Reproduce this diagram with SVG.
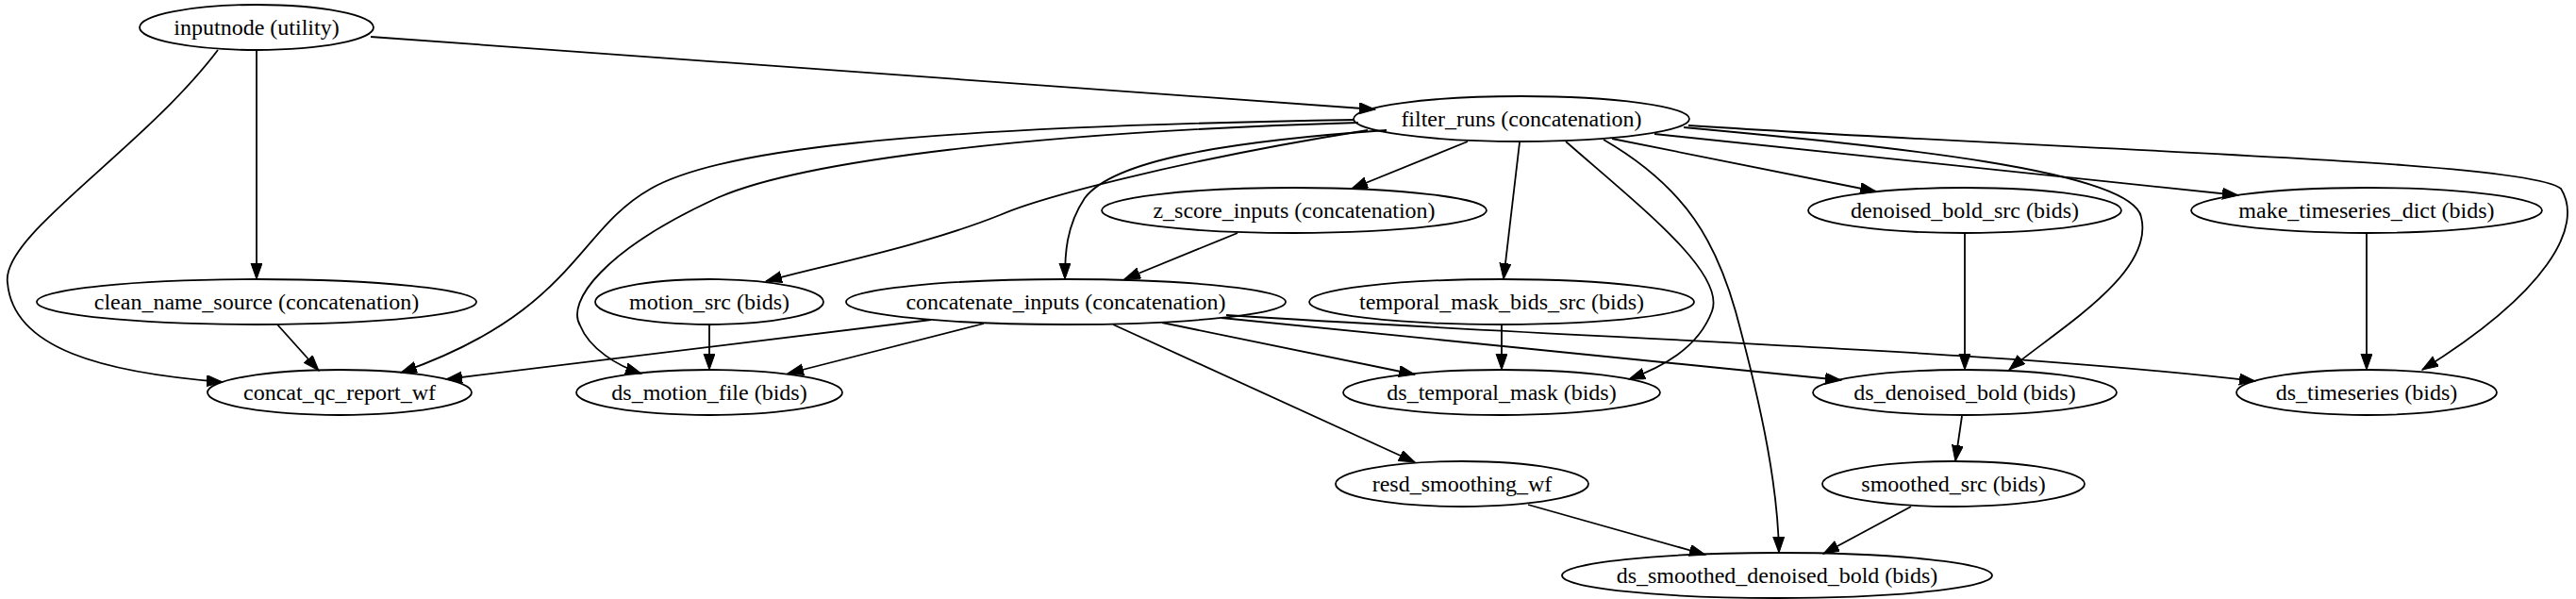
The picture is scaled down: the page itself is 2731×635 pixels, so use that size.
<svg xmlns="http://www.w3.org/2000/svg" width="2731" height="635" viewBox="0 0 2731 635">
<style>
.n ellipse{fill:none;stroke:#000;stroke-width:1.8}
.n text{font-family:"Liberation Serif","Times New Roman",serif;font-size:24px;text-anchor:middle;dominant-baseline:central;fill:#000}
#edges path{fill:none;stroke:#000;stroke-width:1.8;marker-end:url(#a)}
</style>
<defs><marker id="a" markerUnits="userSpaceOnUse" markerWidth="18" markerHeight="14" refX="17" refY="6" orient="auto"><path d="M0,0 L17,6 L0,12 Z" fill="#000" stroke="#000"/></marker></defs>
<rect width="2731" height="635" fill="#fff"/>
<g id="edges">
<path d="M393,39 L1458,116"/>
<path d="M272,53 L272,296"/>
<path d="M231,53 C150,160 0,250 8,300 C14,370 110,395 236,405"/>
<path d="M294,344 L338,393"/>
<path d="M752,344 L752,392"/>
<path d="M987,339 L473,402"/>
<path d="M1043,343 L835,396"/>
<path d="M1180,344 L1500,490"/>
<path d="M1232,342 L1500,397"/>
<path d="M1295,337 L1952,403"/>
<path d="M1300,334 C1700,360 2100,370 2391,404"/>
<path d="M1312,247 L1192,296"/>
<path d="M1436,127 C950,135 760,160 690,200 C610,245 610,330 425,395"/>
<path d="M1440,130 C1100,140 850,170 760,210 C640,265 600,320 615,345 C625,370 655,388 680,396"/>
<path d="M1450,138 C1250,170 1100,210 1060,228 C980,260 880,280 812,298"/>
<path d="M1470,138 C1300,150 1180,170 1150,210 C1130,240 1129,270 1129,296"/>
<path d="M1556,150 L1433,200"/>
<path d="M1611,151 L1594,296"/>
<path d="M1660,150 C1740,220 1830,290 1815,330 C1800,370 1760,390 1727,402"/>
<path d="M1700,148 C1790,200 1820,260 1840,330 C1870,440 1885,520 1886,586"/>
<path d="M1709,147 L1989,203"/>
<path d="M1785,135 C2000,155 2260,180 2270,230 C2285,290 2180,350 2130,392"/>
<path d="M1754,142 L2373,207"/>
<path d="M1790,133 C2200,160 2680,170 2715,200 C2740,240 2700,310 2568,392"/>
<path d="M1592,344 L1592,392"/>
<path d="M2083,247 L2083,392"/>
<path d="M2509,247 L2509,392"/>
<path d="M2080,441 L2073,489"/>
<path d="M1620,535 L1808,588"/>
<path d="M2026,537 L1933,587"/>
</g>
<g id="inputnode" class="n"><ellipse cx="272" cy="29" rx="124" ry="24"/><text x="272" y="29">inputnode (utility)</text></g>
<g id="filter_runs" class="n"><ellipse cx="1613" cy="126" rx="178" ry="24"/><text x="1613" y="126">filter_runs (concatenation)</text></g>
<g id="z_score_inputs" class="n"><ellipse cx="1372" cy="223" rx="204" ry="24"/><text x="1372" y="223">z_score_inputs (concatenation)</text></g>
<g id="denoised_bold_src" class="n"><ellipse cx="2083" cy="223" rx="166" ry="24"/><text x="2083" y="223">denoised_bold_src (bids)</text></g>
<g id="make_timeseries_dict" class="n"><ellipse cx="2509" cy="223" rx="186" ry="24"/><text x="2509" y="223">make_timeseries_dict (bids)</text></g>
<g id="clean_name_source" class="n"><ellipse cx="272" cy="320" rx="233" ry="24"/><text x="272" y="320">clean_name_source (concatenation)</text></g>
<g id="motion_src" class="n"><ellipse cx="752" cy="320" rx="121" ry="24"/><text x="752" y="320">motion_src (bids)</text></g>
<g id="concatenate_inputs" class="n"><ellipse cx="1130" cy="320" rx="233" ry="24"/><text x="1130" y="320">concatenate_inputs (concatenation)</text></g>
<g id="temporal_mask_bids_src" class="n"><ellipse cx="1592" cy="320" rx="204" ry="24"/><text x="1592" y="320">temporal_mask_bids_src (bids)</text></g>
<g id="concat_qc_report_wf" class="n"><ellipse cx="360" cy="416" rx="140" ry="24"/><text x="360" y="416">concat_qc_report_wf</text></g>
<g id="ds_motion_file" class="n"><ellipse cx="752" cy="416" rx="141" ry="24"/><text x="752" y="416">ds_motion_file (bids)</text></g>
<g id="ds_temporal_mask" class="n"><ellipse cx="1592" cy="416" rx="168" ry="24"/><text x="1592" y="416">ds_temporal_mask (bids)</text></g>
<g id="ds_denoised_bold" class="n"><ellipse cx="2083" cy="416" rx="161" ry="24"/><text x="2083" y="416">ds_denoised_bold (bids)</text></g>
<g id="ds_timeseries" class="n"><ellipse cx="2509" cy="416" rx="138" ry="24"/><text x="2509" y="416">ds_timeseries (bids)</text></g>
<g id="resd_smoothing_wf" class="n"><ellipse cx="1550" cy="513" rx="134" ry="24"/><text x="1550" y="513">resd_smoothing_wf</text></g>
<g id="smoothed_src" class="n"><ellipse cx="2071" cy="513" rx="139" ry="24"/><text x="2071" y="513">smoothed_src (bids)</text></g>
<g id="ds_smoothed_denoised_bold" class="n"><ellipse cx="1884" cy="610" rx="228" ry="24"/><text x="1884" y="610">ds_smoothed_denoised_bold (bids)</text></g>
</svg>
